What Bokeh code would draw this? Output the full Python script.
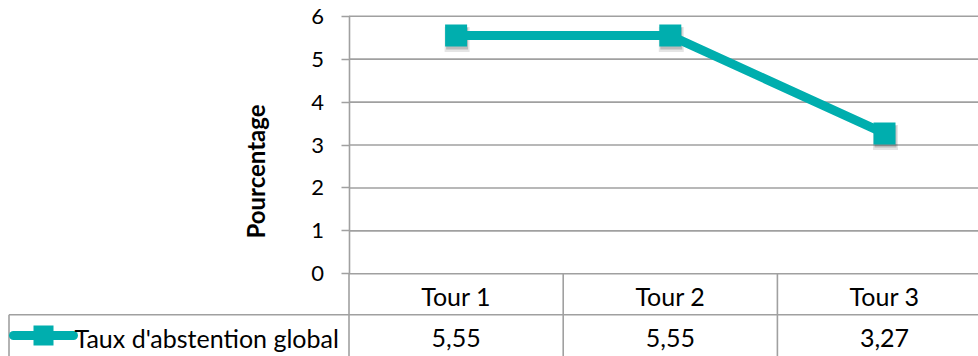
import math
from bokeh.plotting import figure
from bokeh.models import Range1d, LinearAxis, FixedTicker
from bokeh.transform import dodge
from bokeh.core.properties import value
from bokeh.embed import file_html
from bokeh.resources import INLINE

# ---- data ----
categories = ["Tour 1", "Tour 2", "Tour 3"]
values = [5.55, 5.55, 3.27]
series_name = "Taux d'abstention global"
y_ticks = [0, 1, 2, 3, 4, 5, 6]
y_title = "Pourcentage"

# ---- style / layout ----
TEAL = "#00AEAE"
GRAY = "#A0A0A0"
LW = 1.6
FONT = "Lato"
W, H = 978, 356
PX_X = 214.2      # pixels per category
PX_Y = 42.93      # pixels per percentage unit
AXIS_PX = 348.5   # x pixel of value axis inside figure
ZERO_PX = 273.3   # y pixel (from top) of the zero line
ROW_PX = 41.0     # table row height

x_start = -0.5 - AXIS_PX / PX_X
x_end = x_start + W / PX_X
y_end = ZERO_PX / PX_Y
y_start = y_end - H / PX_Y

def fx(px):
    return x_start + px / PX_X

def fy(px):
    return y_end - px / PX_Y

p = figure(width=W, height=H, x_range=Range1d(x_start, x_end),
           y_range=Range1d(y_start, y_end), output_backend="svg",
           toolbar_location=None, x_axis_type=None, y_axis_type=None,
           min_border=0, outline_line_color=None)

n = len(categories)
xs = list(range(n))
lo, hi = -0.5, n - 0.5

# horizontal gridlines
p.segment(x0=[lo] * len(y_ticks), x1=[hi] * len(y_ticks), y0=y_ticks, y1=y_ticks,
          line_color=GRAY, line_width=LW)

# value axis
yaxis = LinearAxis(ticker=FixedTicker(ticks=y_ticks), fixed_location=lo,
                   bounds=(y_ticks[0], y_ticks[-1]))
yaxis.axis_line_color = GRAY
yaxis.axis_line_width = LW
yaxis.major_tick_line_color = GRAY
yaxis.major_tick_line_width = LW
yaxis.major_tick_out = 8
yaxis.major_tick_in = 0
yaxis.minor_tick_line_color = None
yaxis.major_label_standoff = 17
yaxis.major_label_text_font = FONT
yaxis.major_label_text_font_size = "22px"
yaxis.major_label_text_color = "black"
p.add_layout(yaxis, "left")

# data table lines
row_h = ROW_PX / PX_Y
bounds_x = [i - 0.5 for i in range(n + 1)]
p.segment(x0=bounds_x, x1=bounds_x, y0=[0] * len(bounds_x), y1=[y_start] * len(bounds_x),
          line_color=GRAY, line_width=LW)
p.segment(x0=[fx(8.5)], x1=[x_end], y0=[-row_h], y1=[-row_h], line_color=GRAY, line_width=LW)
p.segment(x0=[fx(8.5)], x1=[fx(8.5)], y0=[-row_h], y1=[y_start], line_color=GRAY, line_width=LW)

# series
src = dict(x=xs, y=values)
p.scatter(x=dodge("x", 1.0 / PX_X, range=p.x_range), y=dodge("y", -4.0 / PX_Y, range=p.y_range),
          source=src, marker="square", size=25, fill_color="black", fill_alpha=0.10, line_color=None)
p.scatter(x=dodge("x", 1.0 / PX_X, range=p.x_range), y=dodge("y", -3.0 / PX_Y, range=p.y_range),
          source=src, marker="square", size=22, fill_color="black", fill_alpha=0.18, line_color=None)
p.line(x=xs, y=values, line_color=TEAL, line_width=9, line_join="round")
p.scatter(x=xs, y=values, marker="square", size=22, fill_color=TEAL, line_color=None)

# table texts
p.text(x=xs, y=[-21.7 / PX_Y] * n, text=categories, text_font=value(FONT),
       text_font_size="25px", text_align="center", text_baseline="alphabetic", text_color="black")
labels = [f"{v:.2f}".replace(".", ",") for v in values]
p.text(x=xs, y=[-64 / PX_Y] * n, text=labels, text_font=value(FONT),
       text_font_size="25px", text_align="center", text_baseline="alphabetic", text_color="black")

# legend key inside the table
ky = -61.7 / PX_Y
p.line(x=[fx(13), fx(73)], y=[ky, ky], line_color=TEAL, line_width=9, line_cap="round")
p.scatter(x=[fx(43)], y=[ky], marker="square", size=20, fill_color=TEAL, line_color=None)
p.text(x=[fx(74)], y=[-64 / PX_Y], text=[series_name], text_font=value(FONT),
       text_font_size="25px", text_align="left", text_baseline="alphabetic", text_color="black")

# axis title
p.text(x=[fx(255)], y=[fy(171)], text=[y_title], text_font=value(FONT), text_font_style="bold",
       text_font_size="24px", text_align="center", text_baseline="middle", angle=math.pi / 2,
       text_color="black")

open("out.html", "w").write(file_html(p, INLINE))
